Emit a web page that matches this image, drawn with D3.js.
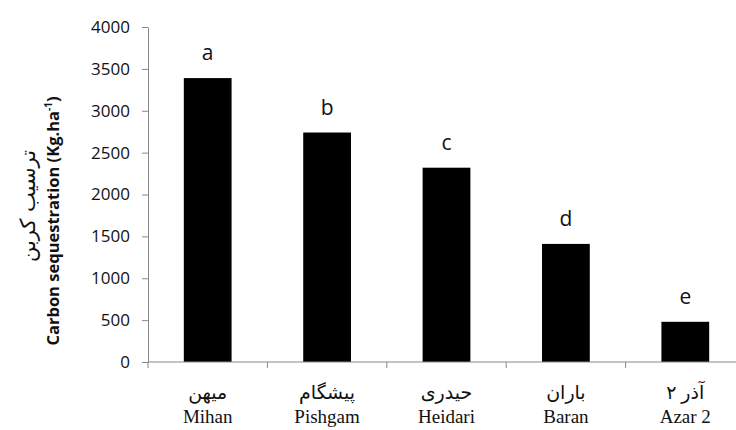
<!DOCTYPE html>
<html>
<head>
<meta charset="utf-8">
<script src="https://cdn.jsdelivr.net/npm/d3@7"></script>
<style>
  body { margin: 0; background: #fff; }
  svg text { fill: #111; }
</style>
</head>
<body>
<svg id="chart" width="736" height="430"></svg>
<script>
// Cultivar names (Persian + English) and carbon sequestration values
const cultivarsFa = ["میهن", "پیشگام", "حیدری", "باران", "آذر ۲"]
const cultivarsEn = ["Mihan", "Pishgam", "Heidari", "Baran", "Azar 2"]
const carbonValues = [3390, 2740, 2320, 1410, 480]
const groupLetters = ["a", "b", "c", "d", "e"]
const yTicks = [0, 500, 1000, 1500, 2000, 2500, 3000, 3500, 4000]

const svg = d3.select("#chart")
const plotLeft = 148, plotRight = 745, plotTop = 27, plotBottom = 362

const x = d3.scaleBand().domain(cultivarsEn).range([plotLeft, plotRight]).padding(0)
const y = d3.scaleLinear().domain([0, 4000]).range([plotBottom, plotTop])
const bw = x.bandwidth()
const barW = bw * 0.4

// Bars
svg.append("g")
  .selectAll("rect")
  .data(carbonValues)
  .join("rect")
  .attr("x", (d, i) => x(cultivarsEn[i]) + (bw - barW) / 2)
  .attr("y", d => y(d))
  .attr("width", barW)
  .attr("height", d => y(0) - y(d))
  .attr("fill", "#000")

// Significance letters
svg.append("g")
  .selectAll("text")
  .data(carbonValues)
  .join("text")
  .attr("x", (d, i) => x(cultivarsEn[i]) + bw / 2)
  .attr("y", d => y(d) - 18)
  .attr("text-anchor", "middle")
  .style("font-family", "'Open Sans', sans-serif")
  .style("font-size", "21px")
  .text((d, i) => groupLetters[i])

// Y axis
const yAxis = svg.append("g")
  .attr("transform", `translate(${plotLeft},0)`)
  .call(d3.axisLeft(y).tickValues(yTicks).tickFormat(d3.format("d"))
    .tickSize(6).tickSizeOuter(0).tickPadding(12))
yAxis.select(".domain").attr("stroke", "#888")
yAxis.selectAll(".tick line").attr("stroke", "#888")
yAxis.selectAll(".tick text")
  .style("font-family", "'Open Sans', sans-serif")
  .style("font-size", "17px")
  .attr("fill", "#111")

// X axis: line with ticks at category boundaries
const xAxis = svg.append("g")
xAxis.append("line")
  .attr("x1", plotLeft).attr("x2", plotRight)
  .attr("y1", y(0)).attr("y2", y(0))
  .attr("stroke", "#888")
const boundaries = cultivarsEn.map(c => x(c)).concat([x.range()[1]])
xAxis.selectAll(".bt")
  .data(boundaries)
  .join("line")
  .attr("class", "bt")
  .attr("x1", d => d).attr("x2", d => d)
  .attr("y1", y(0)).attr("y2", y(0) + 6)
  .attr("stroke", "#888")

// Category labels: Persian above, English below
const serif = "'Liberation Serif', 'DejaVu Sans', serif"
xAxis.selectAll(".fa")
  .data(cultivarsFa)
  .join("text")
  .attr("class", "fa")
  .attr("x", (d, i) => x(cultivarsEn[i]) + bw / 2)
  .attr("y", 399)
  .attr("text-anchor", "middle")
  .attr("direction", "rtl")
  .style("font-family", serif)
  .style("font-size", "19px")
  .text(d => d)
xAxis.selectAll(".en")
  .data(cultivarsEn)
  .join("text")
  .attr("class", "en")
  .attr("x", (d, i) => x(d) + bw / 2)
  .attr("y", 423)
  .attr("text-anchor", "middle")
  .style("font-family", serif)
  .style("font-size", "19px")
  .text(d => d)

// Y axis titles (rotated)
const titleEn = svg.append("text")
  .attr("transform", `translate(59,221) rotate(-90)`)
  .attr("text-anchor", "middle")
  .style("font-family", "'Open Sans', sans-serif")
  .style("font-size", "16.5px")
  .style("font-weight", "bold")
titleEn.append("tspan").text("Carbon sequestration (Kg.ha")
titleEn.append("tspan").attr("baseline-shift", "super").style("font-size", "10px").text("-1")
titleEn.append("tspan").text(")")

svg.append("text")
  .attr("transform", `translate(35,206) rotate(-90)`)
  .attr("text-anchor", "middle")
  .attr("direction", "rtl")
  .style("font-family", "'DejaVu Sans', sans-serif")
  .style("font-size", "21px")
  .text("ترسیب کربن")
</script>
</body>
</html>
